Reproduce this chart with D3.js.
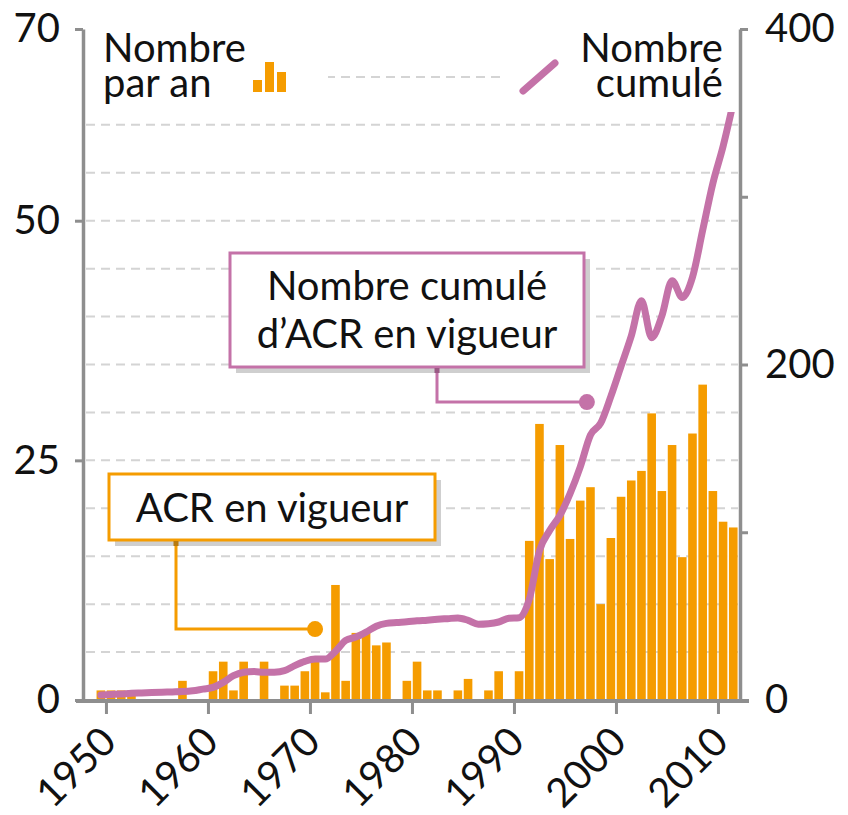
<!DOCTYPE html>
<html>
<meta charset='utf-8'>
<head>
<title>ACR en vigueur</title>
<script src='https://d3js.org/d3.v7.min.js'></script>
<style>
body { margin: 0; background: #fff; }
text { font-family: Lato, 'Noto Sans', sans-serif; fill: #111; }
</style>
</head>
<body>
<div id='chart'></div>
<script>
// years (bar for year Y spans Y-1 .. Y)
var years = [1950,1951,1952,1953,1954,1955,1956,1957,1958,1959,
  1960,1961,1962,1963,1964,1965,1966,1967,1968,1969,
  1970,1971,1972,1973,1974,1975,1976,1977,1978,1979,
  1980,1981,1982,1983,1984,1985,1986,1987,1988,1989,
  1990,1991,1992,1993,1994,1995,1996,1997,1998,1999,
  2000,2001,2002,2003,2004,2005,2006,2007,2008,2009,
  2010,2011,2012]
// nombre par an
var perYear = [1,1,1,1,0,0,0,0,2,0,
  0,3,4,1,4,0,4,0,1.5,1.5,
  3,4,0.8,12,2,7,7,5.7,6,0,
  2,4,1,1,0,1,2.2,0,1,3,
  0,3,16.6,28.8,14.7,26.6,16.8,20.8,22.2,10,
  16.9,21.2,22.9,23.9,29.9,21.8,26.6,14.9,27.8,32.9,
  21.8,18.6,18]
// nombre cumulé
var cumul = [3,3.3,3.6,4,4.2,4.4,4.6,4.8,5,5.5,
  6.5,7.5,10.5,14.5,16.5,17,16.5,16.6,17.5,20.5,
  23,24.4,24.4,29,35.5,37.5,40.5,44,45.7,46.2,
  46.6,47.2,47.6,48.1,48.5,48.9,47.5,45.2,45.5,46.5,
  48.7,49,60,89,101,110,123,139,158,165,
  181,199,217,238,216,229,250,240,252,280,
  308,330,356]

var xTicks = [1950,1960,1970,1980,1990,2000,2010]
var leftTicks = [0,25,50,70]
var rightTicks = [0,100,200,300,400]
var rightLabels = [0,200,400]
var gridValues = [5,10,15,20,25,30,35,40,45,50,55,60,65]
var legendIcon = [1,3,2]

var orange = '#f59c00', pink = '#c472a8', axisGrey = '#8e8e8e'
var W = 848, H = 815

var svg = d3.select('#chart').append('svg')
  .attr('width', W).attr('height', H)

var x = d3.scaleLinear().domain([1947.75, 2012.16]).range([83, 740])
var yL = d3.scaleLinear().domain([0, 70]).range([700, 29])
var yR = d3.scaleLinear().domain([0, 400]).range([700, 29])

// grid
svg.append('g').selectAll('line')
  .data(gridValues).enter().append('line')
  .attr('x1', 86).attr('x2', 738)
  .attr('y1', function(d) { return yL(d) }).attr('y2', function(d) { return yL(d) })
  .attr('stroke', '#d4d4d4').attr('stroke-width', 2)
  .attr('stroke-dasharray', '9,6')

// bars
svg.append('g').selectAll('rect')
  .data(years).enter().append('rect')
  .attr('x', function(d) { return x(d - 1) + 0.8 })
  .attr('width', function(d) { return x(d) - x(d - 1) - 1.6 })
  .attr('y', function(d, i) { return yL(perYear[i]) })
  .attr('height', function(d, i) { return yL(0) - yL(perYear[i]) })
  .attr('fill', orange)

// axes
var gl = svg.append('g').attr('transform', 'translate(83,0)')
  .call(d3.axisLeft(yL).tickValues(leftTicks).tickSize(8).tickSizeOuter(0).tickPadding(15))
var gr = svg.append('g').attr('transform', 'translate(740,0)')
  .call(d3.axisRight(yR).tickValues(rightTicks).tickSize(8).tickSizeOuter(0).tickPadding(17)
    .tickFormat(function(d) { return rightLabels.indexOf(d) >= 0 ? d : '' }))
var gb = svg.append('g').attr('transform', 'translate(0,701)')
  .call(d3.axisBottom(x).tickValues(xTicks).tickSize(13).tickSizeOuter(0).tickFormat(d3.format('d')))
gb.select('.domain').remove()
gb.insert('line', ':first-child')
  .attr('x1', x.range()[0] - 7).attr('x2', x.range()[1] + 9)
  .attr('stroke', axisGrey).attr('stroke-width', 4)
gb.selectAll('.tick text')
  .attr('y', 0).attr('dy', 0)
  .attr('text-anchor', 'end')
  .attr('transform', 'translate(12,43) rotate(-45)')

;[gl, gr, gb].forEach(function(g) {
  g.selectAll('.domain').attr('stroke', axisGrey).attr('stroke-width', 3.5)
  g.selectAll('.tick line').attr('stroke', axisGrey).attr('stroke-width', 3)
  g.selectAll('text').attr('font-size', 40).attr('font-family', 'Lato, sans-serif').attr('fill', '#111')
})

// annotation boxes
function box(x0, y0, w, h, color) {
  svg.append('rect').attr('x', x0 + 6).attr('y', y0 + 6).attr('width', w).attr('height', h)
    .attr('fill', '#cfcfcf')
  svg.append('rect').attr('x', x0).attr('y', y0).attr('width', w).attr('height', h)
    .attr('fill', '#fff').attr('stroke', color).attr('stroke-width', 3)
}

// orange: ACR en vigueur
box(109, 474, 326, 66, orange)
svg.append('text').attr('x', 272).attr('y', 522).attr('text-anchor', 'middle')
  .attr('font-size', 40).text('ACR en vigueur')
var oDot = [x(1970.5), yL(7.4)]
svg.append('path')
  .attr('d', 'M176,541 V' + oDot[1] + ' H' + oDot[0])
  .attr('fill', 'none').attr('stroke', orange).attr('stroke-width', 3)
svg.append('rect').attr('x', 173.5).attr('y', 541).attr('width', 5).attr('height', 5).attr('fill', '#b87a10')
svg.append('circle').attr('cx', oDot[0]).attr('cy', oDot[1]).attr('r', 8).attr('fill', orange)

// pink: cumulé
box(230, 253, 354, 114, pink)
svg.append('text').attr('x', 407).attr('y', 300).attr('text-anchor', 'middle')
  .attr('font-size', 40).text('Nombre cumulé')
svg.append('text').attr('x', 407).attr('y', 348).attr('text-anchor', 'middle')
  .attr('font-size', 40).text('d\u2019ACR en vigueur')
var pDot = [x(1997.15), yR(177.6)]
svg.append('path')
  .attr('d', 'M437,368 V' + pDot[1] + ' H' + pDot[0])
  .attr('fill', 'none').attr('stroke', pink).attr('stroke-width', 3)
svg.append('rect').attr('x', 434.5).attr('y', 368).attr('width', 5).attr('height', 5).attr('fill', '#9a5a85')
svg.append('circle').attr('cx', pDot[0]).attr('cy', pDot[1]).attr('r', 8).attr('fill', pink)

// cumulative line
var line = d3.line()
  .x(function(d, i) { return x(years[i] - 0.5) })
  .y(function(d) { return yR(d) })
  .curve(d3.curveMonotoneX)
svg.append('path').datum(cumul)
  .attr('d', line)
  .attr('fill', 'none').attr('stroke', pink).attr('stroke-width', 7)
  .attr('stroke-linecap', 'round').attr('stroke-linejoin', 'round')

// legends
svg.append('rect').attr('x', 86).attr('y', 32).attr('width', 242).attr('height', 80).attr('fill', '#fff')
svg.append('rect').attr('x', 504).attr('y', 32).attr('width', 234).attr('height', 80).attr('fill', '#fff')

svg.append('text').attr('x', 103).attr('y', 62).attr('font-size', 40).text('Nombre')
svg.append('text').attr('x', 103).attr('y', 97).attr('font-size', 40).text('par an')
var iy = d3.scaleLinear().domain([0, 3]).range([92, 62])
svg.append('g').selectAll('rect').data(legendIcon).enter().append('rect')
  .attr('x', function(d, i) { return 253 + i * 12 })
  .attr('width', 9)
  .attr('y', function(d) { return iy(d) - (d === 1 ? 2 : 0) })
  .attr('height', function(d) { return 92 - iy(d) + (d === 1 ? 2 : 0) })
  .attr('fill', orange)

svg.append('text').attr('x', 723).attr('y', 62).attr('text-anchor', 'end').attr('font-size', 40).text('Nombre')
svg.append('text').attr('x', 723).attr('y', 97).attr('text-anchor', 'end').attr('font-size', 40).text('cumulé')
svg.append('line').attr('x1', 523).attr('y1', 91).attr('x2', 555).attr('y2', 63)
  .attr('stroke', pink).attr('stroke-width', 7).attr('stroke-linecap', 'round')
</script>
</body>
</html>
